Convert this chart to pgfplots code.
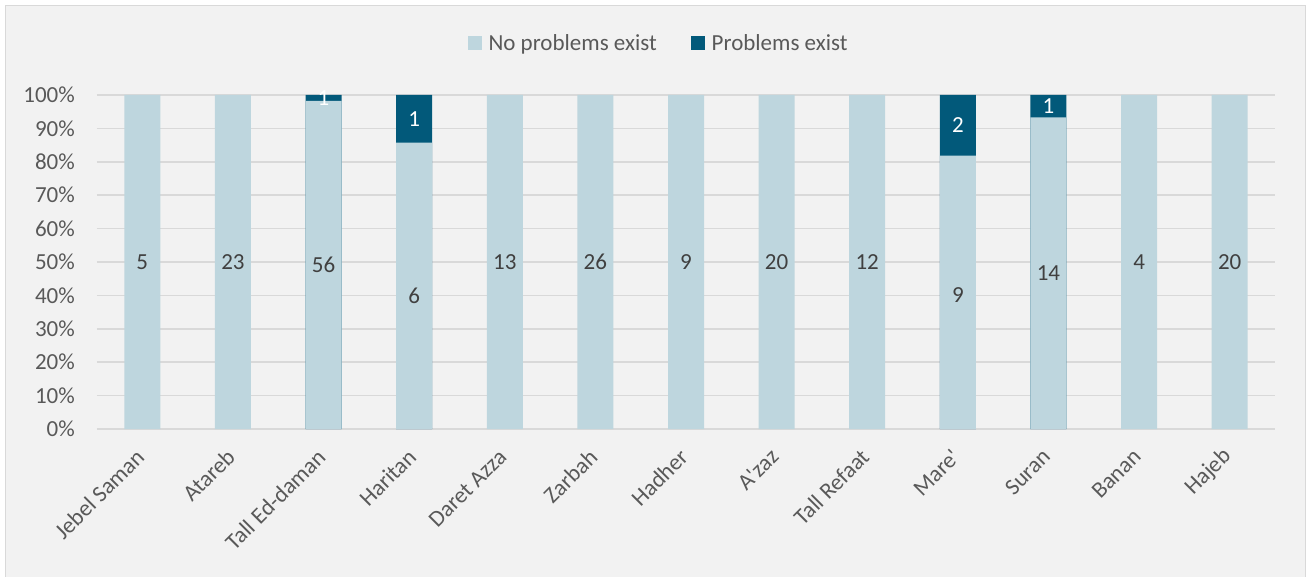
\documentclass[border=0pt]{standalone}
\usepackage{fontspec}
\newfontfamily\cf{Carlito}
\setmainfont{Carlito}
\usepackage{pgfplots}
\pgfplotsset{compat=1.18}
\definecolor{lightbar}{HTML}{BED6DE}
\definecolor{darkbar}{HTML}{02597A}
\definecolor{bgc}{HTML}{F2F2F2}
\definecolor{gridc}{HTML}{D9D9D9}
\definecolor{tickc}{HTML}{595959}
\definecolor{labc}{HTML}{404040}
\newcommand{\fs}{\cf\fontsize{23bp}{27bp}\selectfont}
\begin{document}
\begin{tikzpicture}[font=\fs]
\fill[bgc, draw=gridc, line width=0.75bp] (-92bp,-148bp) rectangle (1208bp,424bp);
\begin{axis}[
  at={(0,0)}, anchor=south west,
  scale only axis, width=1178bp, height=334bp,
  xmin=-0.5, xmax=12.5, ymin=0, ymax=100,
  xtick={0,...,12},
  xticklabels={Jebel Saman, Atareb, Tall Ed-daman, Haritan, Daret Azza, Zarbah, Hadher, A\textquotesingle zaz, Tall Refaat, Mare\textquotesingle, Suran, Banan, Hajeb},
  ytick={0,10,...,100},
  yticklabel={\pgfmathprintnumber{\tick}\%},
  /pgf/number format/assume math mode=true,
  ymajorgrids, major grid style={gridc, line width=1.5bp},
  axis line style={draw=none}, tick style={draw=none},
  yticklabel style={font=\fs, text=tickc, inner sep=0pt, xshift=-22bp},
  xticklabel style={font=\fs, text=tickc, inner sep=0pt, xshift=-2bp, yshift=-24bp, rotate=45, anchor=east},
  legend style={at={(0.4767,1.156)}, anchor=center, draw=none, fill=none, font=\fs, text=tickc,
    legend columns=2, /tikz/every even column/.append style={column sep=32bp},
    /tikz/every odd column/.append style={column sep=5bp}},
  legend image code/.code={\fill[#1, draw=none] (0bp,-7bp) rectangle (14bp,7bp);},
  clip=false,
]
\addlegendimage{fill=lightbar}
\addlegendentry{No problems exist}
\addlegendimage{fill=darkbar}
\addlegendentry{Problems exist}
\addplot[ybar, bar width=36bp, bar shift=0pt, fill=darkbar, draw=none, forget plot]
  coordinates {(2,100) (3,100) (9,100) (10,100)};
\addplot[ybar, bar width=36bp, bar shift=0pt, fill=lightbar, draw=none, forget plot]
  coordinates {(0,100) (1,100) (2,98.246) (3,85.714) (4,100) (5,100) (6,100) (7,100) (8,100) (9,81.818) (10,93.333) (11,100) (12,100)};
\addplot[only marks, mark=none, forget plot, nodes near coords, point meta=explicit symbolic,
  nodes near coords style={anchor=center, font=\fs, text=labc}]
  coordinates {(0,50)[5] (1,50)[23] (2,49.12)[56] (3,40)[6] (4,50)[13] (5,50)[26] (6,50)[9] (7,50)[20] (8,50)[12] (9,40)[9] (10,46.67)[14] (11,50)[4] (12,50)[20]};
\addplot[only marks, mark=none, forget plot, nodes near coords, point meta=explicit symbolic,
  nodes near coords style={anchor=center, font=\fs, text=white}]
  coordinates {(2,99.12)[1] (3,92.86)[1] (9,90.91)[2] (10,96.67)[1]};
\end{axis}
\pgfresetboundingbox
\path (-97bp,-148bp) rectangle (1209bp,429bp);
\end{tikzpicture}
\end{document}
